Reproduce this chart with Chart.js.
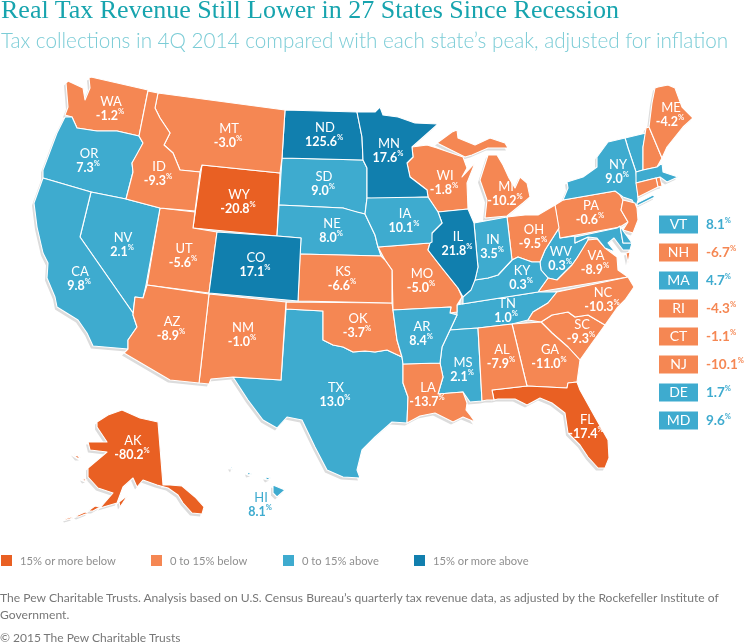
<!DOCTYPE html>
<html>
<head>
<meta charset="utf-8">
<title>Real Tax Revenue Still Lower in 27 States Since Recession</title>
<script src="https://cdn.jsdelivr.net/npm/chart.js@4"></script>
<style>
    html, body { margin: 0; padding: 0; background: #fff; }
    #page { position: relative; width: 750px; height: 644px; overflow: hidden; font-family: Lato, sans-serif; }
    #mapBox { position: absolute; left: 0; top: 0; width: 750px; height: 644px; }
    #title { position: absolute; left: 1px; top: -6px; font: 26px/32px "Liberation Serif", serif; color: #17a4ae; white-space: nowrap; }
    #subtitle { position: absolute; left: 1px; top: 26px; font: 300 20.7px/28px Lato, sans-serif; color: #7bccd6; white-space: nowrap; }
    .legendItem { position: absolute; top: 554px; font-size: 11.2px; line-height: 13px; color: #8f8f8f; white-space: nowrap; padding-left: 19px; }
    .legendItem i { position: absolute; left: 0; top: 1px; width: 11px; height: 11px; }
    #source { position: absolute; left: 0; top: 589px; width: 750px; font-size: 12.1px; line-height: 17px; color: #777; white-space: nowrap; }
    #copyright { position: absolute; left: 0; top: 631px; font-size: 12px; line-height: 14px; color: #777; white-space: nowrap; }
</style>
</head>
<body>
<div id="page">
    <div id="mapBox"><canvas id="mapChart"></canvas></div>
    <div id="title">Real Tax Revenue Still Lower in 27 States Since Recession</div>
    <div id="subtitle">Tax collections in 4Q 2014 compared with each state’s peak, adjusted for inflation</div>
    <div id="legend"></div>
    <div id="source">The Pew Charitable Trusts. Analysis based on U.S. Census Bureau’s quarterly tax revenue data, as adjusted by the Rockefeller Institute of<br>Government.</div>
    <div id="copyright">© 2015 The Pew Charitable Trusts</div>
</div>
<script>
// Values
const stateCodes = ['AK','AL','AR','AZ','CA','CO','CT','DE','FL','GA','HI','IA','ID','IL','IN','KS','KY','LA','MA','MD','ME','MI','MN','MO','MS','MT','NC','ND','NE','NH','NJ','NM','NV','NY','OH','OK','OR','PA','RI','SC','SD','TN','TX','UT','VA','VT','WA','WI','WV','WY'];
const stateValues = [-80.2,-7.9,8.4,-8.9,9.8,17.1,-1.1,1.7,-17.4,-11.0,8.1,10.1,-9.3,21.8,3.5,-6.6,0.3,-13.7,4.7,9.6,-4.2,-10.2,17.6,-5.0,2.1,-3.0,-10.3,125.6,8.0,-6.7,-10.1,-1.0,2.1,9.0,-9.5,-3.7,7.3,-0.6,-4.3,-9.3,9.0,1.0,13.0,-5.6,-8.9,8.1,-1.2,-1.8,0.3,-20.8];

// Small states that are listed next to the map
const calloutStates = ['VT','NH','MA','RI','CT','NJ','DE','MD'];

const binLabels = ['15% or more below','0 to 15% below','0 to 15% above','15% or more above'];
const binColors = ['#e96023','#f58753','#3eabcf','#117fae'];
const legendLefts = [1, 151, 283, 414];

// Outlines in map units, flat x,y lists
const stateOutlines = {
    WA: [[91,77,148,90,139,136,117,131,97,131,77,128,72,117,65,115,68,107,66,83,68,81,83,88,85,100,90,88,89,78]],
    OR: [[65,117,72,117,77,128,97,131,117,131,139,136,143,143,140,150,132,163,133,172,126,199,91,192,43,178,43,170,57,133]],
    CA: [[43,178,91,192,80,237,133,313,133,315,137,327,128,340,128,349,93,346,87,333,78,320,57,307,55,297,47,278,48,263,43,253,37,227,34,203]],
    NV: [[91,192,126,199,160,208,146,285,143,298,135,297,133,313,80,237]],
    ID: [[148,91,158,93,155,108,160,118,170,133,164,145,173,153,180,170,200,172,195,211,160,208,126,199,133,172,132,163,143,143,139,136]],
    MT: [[158,93,285,110,282,158,280,173,202,165,200,172,180,170,173,153,164,145,170,133,160,118,155,108]],
    WY: [[202,165,280,173,277,236,193,228]],
    UT: [[160,208,195,212,193,228,217,232,209,293,147,285]],
    CO: [[217,232,277,236,301,238,298,301,209,293]],
    AZ: [[147,285,209,294,199,383,170,380,124,353,128,349,128,340,137,327,133,315,135,297,143,298]],
    NM: [[209,294,286,302,281,380,233,377,211,379,209,384,199,383]],
    TX: [[286,309,323,311,323,340,333,345,343,347,353,352,365,351,375,352,387,350,402,357,403,364,403,383,408,397,407,423,392,422,375,437,362,450,357,470,360,478,343,477,327,470,315,447,302,420,287,417,277,428,263,420,248,400,233,377,281,380]],
    OK: [[286,302,392,303,393,310,397,340,402,357,387,350,375,352,365,351,353,352,343,347,333,345,323,340,323,311,286,309]],
    KS: [[300,254,381,256,385,260,392,270,392,303,298,301]],
    NE: [[279,205,343,208,357,212,365,214,375,235,378,247,381,256,300,254,301,238,277,236]],
    SD: [[282,158,363,160,367,168,367,198,365,214,352,211,343,208,279,205]],
    ND: [[285,110,357,112,362,137,363,160,282,158]],
    MN: [[357,112,375,112,380,107,383,115,398,117,415,123,438,124,412,147,413,157,407,163,410,177,427,190,428,197,375,199,367,198,367,168,363,160,362,137]],
    IA: [[367,198,428,197,438,212,442,223,432,233,432,242,430,243,378,247,375,235,365,214]],
    MO: [[378,247,430,243,428,250,442,268,458,288,462,297,457,305,457,312,450,313,451,307,393,310,392,270,385,260]],
    AR: [[393,310,451,307,450,313,457,315,450,330,442,347,440,363,403,364,402,357,397,340]],
    LA: [[403,364,440,363,443,377,438,394,463,392,467,403,466,410,470,415,475,422,463,417,453,422,443,417,435,413,420,416,407,423,408,397,403,383]],
    MS: [[450,330,478,328,482,401,470,402,463,392,438,394,443,377,440,363,442,347]],
    AL: [[478,328,512,324,525,378,527,386,492,390,494,400,487,400,482,401]],
    GA: [[512,324,541,322,552,333,568,347,580,360,577,382,568,383,567,388,527,386,525,378]],
    FL: [[492,390,527,386,567,388,568,383,577,382,580,390,595,417,608,440,609,458,605,468,598,468,588,457,580,445,568,433,565,413,552,403,540,398,527,405,515,399,498,399,494,400]],
    SC: [[541,322,552,315,568,312,575,317,588,315,605,325,592,343,580,360,568,347,552,333]],
    NC: [[557,292,628,277,634,287,625,300,617,308,605,325,588,315,575,317,568,312,552,315,541,322,528,320,533,312,548,303]],
    TN: [[462,304,538,292,557,292,548,303,533,312,528,320,512,324,478,328,450,330,457,315,457,305]],
    KY: [[462,304,463,297,475,280,488,278,498,275,512,260,518,257,532,262,540,262,541,270,548,278,538,292]],
    IN: [[474,223,507,217,512,260,498,275,488,278,475,280,478,267,477,257]],
    IL: [[438,212,468,209,474,223,477,257,478,267,475,280,471,290,463,297,458,288,442,268,428,250,430,243,432,233,442,223]],
    WI: [[427,145,437,148,463,157,467,168,462,177,475,163,467,183,468,209,438,212,428,197,427,190,410,177,407,163,413,157,412,147]],
    MI: [[485,218,507,216,523,203,530,197,527,183,520,177,515,188,509,178,503,165,497,155,488,155,480,180,487,200],
         [437,143,452,132,457,130,458,138,475,145,490,138,505,143,508,148,488,148,472,155,465,157]],
    OH: [[507,217,525,215,538,215,555,205,559,228,545,250,540,262,532,262,518,257,512,260]],
    PA: [[555,205,563,200,615,191,617,190,623,200,621,210,628,222,620,227,560,238]],
    NY: [[563,200,568,188,567,182,583,177,597,167,597,157,608,142,625,138,628,148,636,172,637,183,638,200,636,207,632,200,623,197,615,191],
         [637,203,653,195,655,197,643,203,637,206]],
    VT: [[625,138,646,133,643,147,643,170,636,172,628,148]],
    NH: [[646,128,649,127,662,158,657,167,643,170,643,147]],
    ME: [[655,88,658,87,668,85,675,88,682,107,693,118,683,127,667,147,662,158,649,127,652,103]],
    MA: [[636,172,643,170,657,167,662,163,663,172,678,177,667,182,660,177,636,183]],
    RI: [[656,178,660,177,662,186,658,187]],
    CT: [[636,183,656,178,658,187,638,197]],
    NJ: [[623,200,635,203,637,208,638,220,633,233,623,230,628,222,621,210]],
    DE: [[620,226,624,232,632,243,623,243]],
    MD: [[575,237,617,228,620,226,623,243,632,243,630,250,623,250,614,238,608,243,615,252,605,248,597,238,588,237,575,243]],
    WV: [[559,228,560,238,575,236,575,243,588,237,588,242,577,258,572,265,557,280,548,278,541,270,540,262,545,250]],
    VA: [[548,278,557,280,572,265,577,258,588,240,597,239,605,248,617,257,618,270,628,277,538,292],
         [626,253,630,252,628,263]],
    AK: [[158,422,163,485,170,485,182,486,195,497,204,507,202,514,192,513,183,503,178,495,168,488,157,485,143,480,137,487,133,478,123,487,117,503,100,508,113,493,98,488,88,477,88,468,107,452,90,450,88,442,107,442,97,427,97,422,108,415,122,410,140,418],
         [100,507,93,511,88,511,95,506],
         [88,513,78,517,76,516,85,512],
         [73,518,66,520,65,519,71,517],
         [128,495,120,507,119,502],
         [73,453,81,458,77,458],
         [82,478,87,480,84,481]],
    HI: [[273,485,285,490,277,497,273,493],
         [230,467,233,467,232,470],
         [247,472,252,474,248,475],
         [265,477,271,478,267,480]]
};

// Where each state's two text lines are centred, map units
const labelSpots = {
    WA:[110,109], MT:[228,136], ND:[324,135], MN:[388,151], OR:[88,161], ID:[158,174], WY:[238,202], SD:[323,184], NE:[331,231],
    NV:[122,245], UT:[183,256], CO:[255,265], KS:[342,279], CA:[79,279], AZ:[171,329], NM:[242,335], OK:[357,326], TX:[335,395],
    AK:[132,448], HI:[260,505], WI:[444,183], MI:[505,194], NY:[617,172], ME:[670,115], PA:[590,213], OH:[533,237], IA:[404,221],
    IL:[457,244], IN:[492,247], MO:[421,281], KY:[521,278], WV:[560,259], VA:[595,263], NC:[602,300], TN:[506,311], AR:[421,334],
    SC:[581,332], GA:[549,357], AL:[501,357], MS:[462,370], LA:[427,395], FL:[586,427]
};

function binColor(value) {
    if (value <= -15) return binColors[0];
    if (value < 0) return binColors[1];
    if (value < 15) return binColors[2];
    return binColors[3];
}

function valueOf(code) {
    return stateValues[stateCodes.indexOf(code)];
}

function toPoints(flat, dx, dy) {
    const pts = [];
    for (let i = 0; i < flat.length; i += 2) {
        pts.push({ x: flat[i] + dx, y: flat[i + 1] + dy });
    }
    pts.push({ x: flat[0] + dx, y: flat[1] + dy });
    return pts;
}

// One dataset per polygon, plus a shifted grey copy behind it for the coast shadow
const datasets = [];
stateCodes.forEach(function(code) {
    stateOutlines[code].forEach(function(flat) {
        datasets.push({
            label: code,
            data: toPoints(flat, 0, 0),
            showLine: true,
            fill: 'shape',
            backgroundColor: binColor(valueOf(code)),
            borderColor: '#ffffff',
            borderWidth: 1.1,
            borderJoinStyle: 'round',
            pointRadius: 0,
            tension: 0,
            order: 0
        });
        datasets.push({
            label: code + ' shadow',
            data: toPoints(flat, -2, 2.5),
            showLine: true,
            fill: 'shape',
            backgroundColor: '#dcdcdc',
            borderColor: '#dcdcdc',
            borderWidth: 0,
            pointRadius: 0,
            tension: 0,
            order: 1
        });
    });
});

function drawValue(ctx, text, x, y, size, color, align) {
    // number with the small raised percent sign
    ctx.font = 'bold ' + size + 'px Lato, sans-serif';
    const w = ctx.measureText(text).width;
    ctx.font = 'bold 7.5px Lato, sans-serif';
    const pw = ctx.measureText('%').width;
    const left = align === 'left' ? x : x - (w + pw) / 2;
    ctx.fillStyle = color;
    ctx.textAlign = 'left';
    ctx.font = 'bold ' + size + 'px Lato, sans-serif';
    ctx.fillText(text, left, y);
    ctx.font = 'bold 7.5px Lato, sans-serif';
    ctx.fillText('%', left + w, y - 4);
}

const mapLabels = {
    id: 'mapLabels',
    afterDatasetsDraw(chart) {
        const ctx = chart.ctx;
        const xs = chart.scales.x;
        const ys = chart.scales.y;
        ctx.save();
        ctx.textBaseline = 'middle';

        Object.keys(labelSpots).forEach(function(code) {
            const spot = labelSpots[code];
            const x = xs.getPixelForValue(spot[0]);
            const y = ys.getPixelForValue(spot[1]);
            const color = code === 'HI' ? binColors[2] : '#ffffff';
            ctx.fillStyle = color;
            ctx.textAlign = 'center';
            ctx.font = '13px Lato, sans-serif';
            ctx.fillText(code, x + 1, y - 7);
            drawValue(ctx, valueOf(code).toFixed(1), x, y + 7, 12.5, color);
        });

        // list of the small states on the right
        calloutStates.forEach(function(code, i) {
            const value = valueOf(code);
            const left = xs.getPixelForValue(659);
            const right = xs.getPixelForValue(698);
            const mid = ys.getPixelForValue(224.5 + i * 28);
            ctx.fillStyle = binColor(value);
            ctx.fillRect(left, mid - 9, right - left, 18);
            ctx.fillStyle = '#ffffff';
            ctx.textAlign = 'center';
            ctx.font = '14px Lato, sans-serif';
            ctx.fillText(code, (left + right) / 2, mid);
            drawValue(ctx, value.toFixed(1), xs.getPixelForValue(706), mid, 13.5, binColor(value), 'left');
        });
        ctx.restore();
    }
};

document.addEventListener('DOMContentLoaded', function() {
    // HTML legend under the map
    const legendEl = document.getElementById('legend');
    binLabels.forEach(function(label, i) {
        const item = document.createElement('div');
        item.className = 'legendItem';
        item.style.left = legendLefts[i] + 'px';
        item.innerHTML = '<i style="background:' + binColors[i] + '"></i>' + label;
        legendEl.appendChild(item);
    });

    const ctx = document.getElementById('mapChart').getContext('2d');
    new Chart(ctx, {
        type: 'scatter',
        data: { datasets: datasets },
        plugins: [mapLabels],
        options: {
            responsive: true,
            maintainAspectRatio: false,
            animation: false,
            events: [],
            layout: { padding: 0 },
            scales: {
                x: { type: 'linear', min: 0, max: 750, display: false },
                y: { type: 'linear', min: 0, max: 644, reverse: true, display: false }
            },
            plugins: {
                legend: { display: false },
                tooltip: { enabled: false }
            }
        }
    });
});
</script>
</body>
</html>
